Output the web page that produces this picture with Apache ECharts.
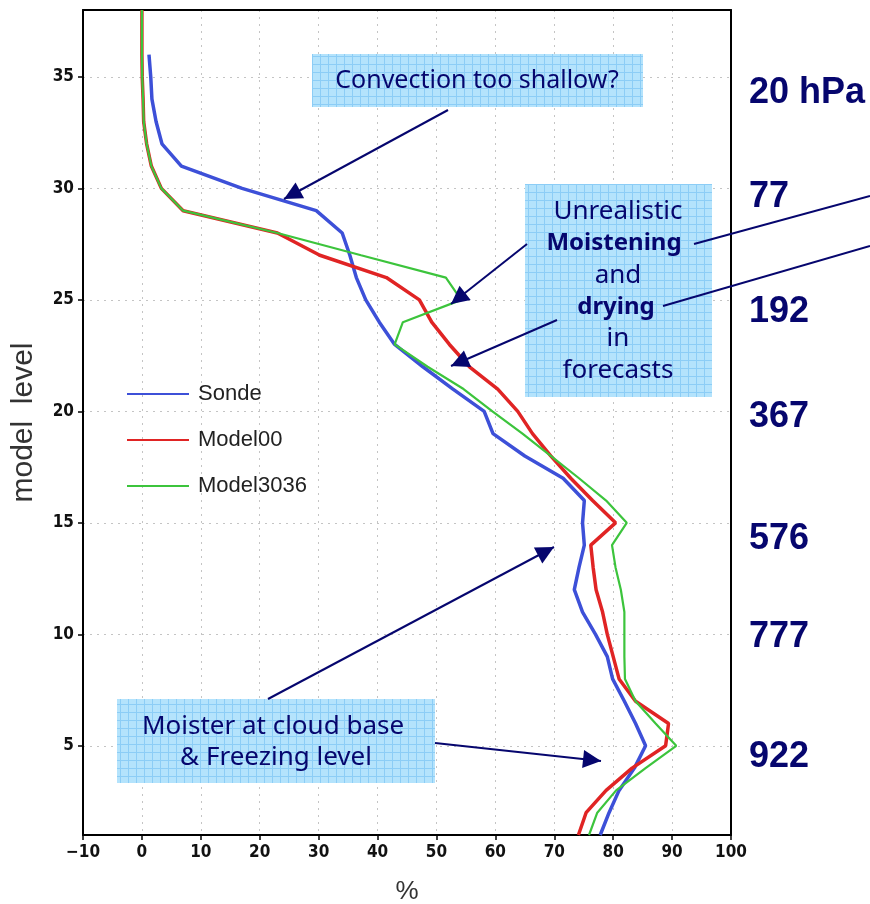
<!DOCTYPE html>
<html>
<head>
<meta charset="utf-8">
<script src="https://cdn.jsdelivr.net/npm/echarts@6/dist/echarts.min.js"></script>
<style>
  html, body { margin: 0; padding: 0; background: #fff; }
  #chart { width: 870px; height: 904px; }
</style>
</head>
<body>
<div id="chart"></div>
<script>
// Relative humidity profiles (%) against model level.
const sondeLevels = [1, 2, 3, 4, 5, 6, 7, 8, 9, 10, 11, 12, 13, 14, 15, 16, 17, 18,
  19, 20, 21, 22, 23, 24, 25, 26, 27, 28, 29, 30, 31, 32, 33, 34, 35, 36];
const sondeRH = [77.8, 79.3, 81.0, 83.6, 85.5, 83.8, 81.9, 79.9, 79.0, 77.0, 74.8, 73.4,
  74.2, 75.1, 74.8, 75.1, 71.5, 65.0, 59.6, 58.1, 52.8, 47.7, 42.9, 40.3, 38.0, 36.4,
  35.3, 34.0, 29.6, 17.0, 6.7, 3.4, 2.4, 1.7, 1.5, 1.2];

const modelLevels = [1, 2, 3, 4, 5, 6, 7, 8, 9, 10, 11, 12, 13, 14, 15, 16, 17, 18,
  19, 20, 21, 22, 23, 24, 25, 26, 27, 28, 29, 30, 31, 32, 33, 34, 35, 36, 37, 38];
const model00RH = [74.1, 75.4, 78.8, 83.2, 88.9, 89.4, 83.8, 81.0, 80.0, 79.0, 78.2, 77.1,
  76.6, 76.2, 80.4, 76.5, 72.8, 69.4, 66.3, 63.8, 60.4, 55.6, 52.2, 49.2, 47.1, 41.5,
  30.2, 23.0, 7.0, 3.3, 1.6, 0.8, 0.3, 0.2, 0.05, 0, 0, 0];
const model3036RH = [75.9, 77.3, 80.5, 85.5, 90.7, 87.2, 83.8, 82.0, 81.9, 81.9, 81.9, 81.3,
  80.4, 79.8, 82.3, 78.8, 74.2, 69.4, 64.6, 59.5, 54.6, 48.5, 42.9, 44.3, 54.2, 51.6,
  37.2, 23.0, 7.0, 3.3, 1.6, 0.8, 0.3, 0.2, 0.05, 0, 0, 0];

const seriesNames = ['Sonde', 'Model00', 'Model3036'];
const yTickValues = [5, 10, 15, 20, 25, 30, 35];
const pressureLabels = ['20 hPa', '77', '192', '367', '576', '777', '922'];

const navy = '#06066e';
const noteFont = '"Noto Sans", "DejaVu Sans", sans-serif';

function pairs(xs, ys) {
  return ys.map((y, i) => [xs[i], y]);
}

// Light-blue squared-paper fill for the note boxes
function paperPattern() {
  const c = document.createElement('canvas');
  c.width = 8; c.height = 8;
  const g = c.getContext('2d');
  g.fillStyle = '#b4e3fc';
  g.fillRect(0, 0, 8, 8);
  g.fillStyle = '#8ccdf6';
  g.fillRect(0, 0, 8, 1);
  g.fillRect(0, 0, 1, 8);
  return { image: c, repeat: 'repeat' };
}

function noteBox(x, y, w, h) {
  return { type: 'rect', shape: { x, y, width: w, height: h },
    style: { fill: paperPattern(), stroke: null }, z: 10 };
}

function noteText(text, x, y, size, bold) {
  return { type: 'text', x, y, z: 11,
    style: { text, fill: navy, font: (bold ? 'bold ' : '') + size + 'px ' + noteFont,
      textAlign: 'center', textVerticalAlign: 'middle' } };
}

function arrow(x1, y1, x2, y2, head) {
  const els = [{ type: 'line', z: 12,
    shape: { x1, y1, x2, y2 }, style: { stroke: navy, lineWidth: 2 } }];
  if (head) {
    const a = Math.atan2(y2 - y1, x2 - x1);
    const L = 18, W = 9;
    const bx = x2 - L * Math.cos(a), by = y2 - L * Math.sin(a);
    const px = -Math.sin(a) * W, py = Math.cos(a) * W;
    els.push({ type: 'polygon', z: 12,
      shape: { points: [[x2, y2], [bx + px, by + py], [bx - px, by - py]] },
      style: { fill: navy } });
  }
  return els;
}

const pressureY = [93, 197, 312, 417, 539, 637, 757];

const graphics = [
  noteBox(312, 54, 331, 53),
  noteText('Convection too shallow?', 477, 81, 25, false),
  noteBox(525, 184, 187, 213),
  noteText('Unrealistic', 618, 212, 26, false),
  noteText('Moistening', 614, 243, 24, true),
  noteText('and', 618, 276, 26, false),
  noteText('drying', 616, 307, 24, true),
  noteText('in', 618, 339, 26, false),
  noteText('forecasts', 618, 371, 26, false),
  noteBox(117, 699, 318, 84),
  noteText('Moister at cloud base', 273, 727, 26, false),
  noteText('& Freezing level', 276, 758, 26, false),
  ...arrow(448, 110, 284, 199, true),
  ...arrow(527, 244, 451, 304, true),
  ...arrow(557, 320, 451, 366, true),
  ...arrow(268, 699, 554, 547, true),
  ...arrow(435, 743, 601, 761, true),
  ...arrow(694, 244, 870, 196, false),
  ...arrow(663, 306, 870, 246, false),
  ...pressureLabels.map((t, i) => ({ type: 'text', x: 749, y: pressureY[i], z: 11,
    style: { text: t, fill: navy, font: 'bold 36px "Liberation Sans", Arial, sans-serif',
      textAlign: 'left', textVerticalAlign: 'middle' } }))
];

const axisFont = '"Liberation Sans Narrow", "DejaVu Sans Condensed", "Liberation Sans", sans-serif';
const labelFont = '"Liberation Sans", Arial, sans-serif';
const splitStyle = { show: true, lineStyle: { color: '#c4c4c4', type: [2, 5], width: 1 } };
const frameLine = { show: true, onZero: false, lineStyle: { color: '#000', width: 2 } };
const minusSign = v => String(v).replace('-', '\u2212');

const chart = echarts.init(document.getElementById('chart'), null, { renderer: 'canvas' });
chart.setOption({
  animation: false,
  backgroundColor: '#fff',
  grid: { left: 83, right: 139, top: 10, bottom: 69, show: false,
    outerBoundsMode: 'none' },
  legend: {
    left: 122, top: 378, orient: 'vertical', icon: 'rect',
    itemWidth: 62, itemHeight: 2, itemGap: 24,
    textStyle: { fontSize: 22, color: '#222', fontFamily: labelFont,
      padding: [0, 0, 0, 4], lineHeight: 22 },
    data: seriesNames
  },
  xAxis: [{
    type: 'value', min: -10, max: 100, interval: 10,
    name: '%', nameLocation: 'middle', nameGap: 44,
    nameTextStyle: { fontSize: 26, color: '#333', fontFamily: labelFont },
    axisLine: frameLine,
    axisTick: { show: true, inside: false, length: 5, lineStyle: { color: '#000', width: 1.5 } },
    axisLabel: { fontSize: 17, color: '#111', margin: 9, fontFamily: axisFont,
      fontWeight: 'bold', formatter: minusSign },
    splitLine: splitStyle
  }, {
    type: 'value', min: -10, max: 100, interval: 10, position: 'top',
    axisLine: frameLine, axisTick: { show: false }, axisLabel: { show: false },
    splitLine: { show: false }
  }],
  yAxis: [{
    type: 'value', min: 1, max: 38,
    name: 'model  level', nameLocation: 'middle', nameGap: 44, nameRotate: 90,
    nameTextStyle: { fontSize: 30, color: '#333', fontFamily: labelFont },
    axisLine: frameLine,
    axisTick: { show: true, inside: false, length: 5, customValues: yTickValues,
      lineStyle: { color: '#000', width: 1.5 } },
    axisLabel: { fontSize: 17, color: '#111', margin: 9, fontFamily: axisFont,
      fontWeight: 'bold', customValues: yTickValues },
    splitLine: splitStyle
  }, {
    type: 'value', min: 1, max: 38, position: 'right',
    axisLine: frameLine, axisTick: { show: false }, axisLabel: { show: false },
    splitLine: { show: false }
  }],
  series: [
    { name: seriesNames[0], type: 'line', showSymbol: false, symbol: 'none',
      data: pairs(sondeRH, sondeLevels), color: '#3d50d8',
      lineStyle: { color: '#3d50d8', width: 3.5 }, z: 3 },
    { name: seriesNames[1], type: 'line', showSymbol: false, symbol: 'none',
      data: pairs(model00RH, modelLevels), color: '#e02424',
      lineStyle: { color: '#e02424', width: 3.5 }, z: 4 },
    { name: seriesNames[2], type: 'line', showSymbol: false, symbol: 'none',
      data: pairs(model3036RH, modelLevels), color: '#3cc43c',
      lineStyle: { color: '#3cc43c', width: 2.2 }, z: 5 }
  ],
  graphic: graphics
});
</script>
</body>
</html>
